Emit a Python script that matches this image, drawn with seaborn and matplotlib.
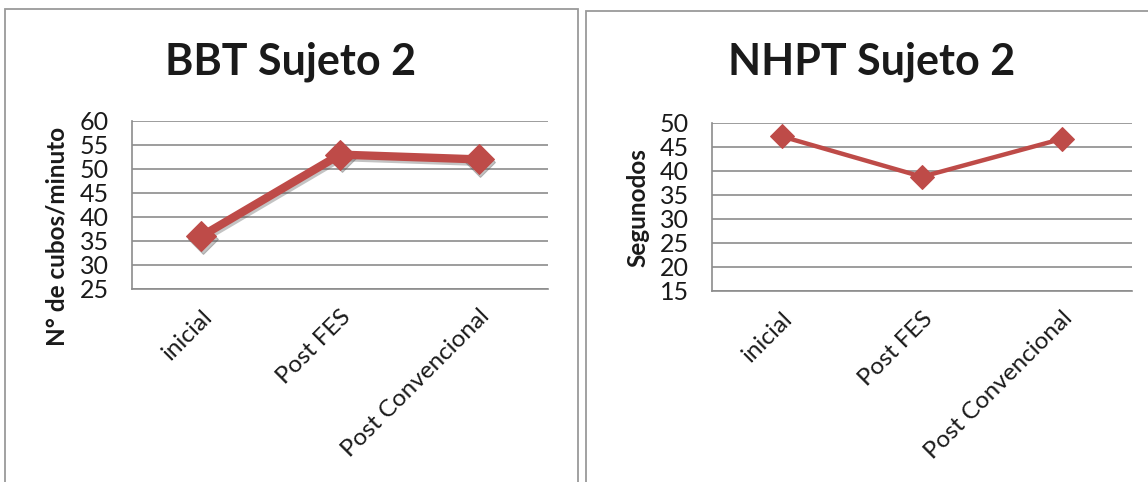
import matplotlib
matplotlib.use("Agg")
import matplotlib.pyplot as plt
import matplotlib.transforms as mtransforms
from matplotlib.patches import Rectangle
import pandas as pd
import seaborn as sns

# Data
etapas = ["inicial", "Post FES", "Post Convencional"]
bbt_cubos = [36, 53, 52]
nhpt_segundos = [47.2, 38.8, 46.7]

bbt_ticks = [25, 30, 35, 40, 45, 50, 55, 60]
nhpt_ticks = [15, 20, 25, 30, 35, 40, 45, 50]

sns.set_style("white")
plt.rcParams["font.family"] = ["Lato", "DejaVu Sans"]

RED = "#BE4B48"
GRID = "#8C8C8C"
TXT = "#1a1a1a"

W, H = 1148, 482
fig = plt.figure(figsize=(W / 100, H / 100), dpi=100)


def px_rect(x0, y0, x1, y1):
    return [x0 / W, 1 - y1 / H, (x1 - x0) / W, (y1 - y0) / H]


# Panel frames
for x0, y0, x1 in [(5, 9, 578), (586, 11, 1152)]:
    fig.patches.append(Rectangle((x0 / W, -0.05), (x1 - x0) / W, 1.05 - y0 / H,
                                 transform=fig.transFigure, fill=False,
                                 edgecolor="#9a9a9a", linewidth=1.3))


def panel(rect, values, ticks, title, ylabel, title_xy, ylabel_xy, lw, ms, shadow):
    ax = fig.add_axes(rect)
    df = pd.DataFrame({"etapa": etapas, "valor": values})
    if shadow:
        # soft drop shadow under the series
        sns.lineplot(data=df, x="etapa", y="valor", ax=ax, sort=False,
                     color="#555555", alpha=0.35, linewidth=lw, marker="D", markersize=ms,
                     markeredgecolor="#555555", markerfacecolor="#555555")
        off = mtransforms.ScaledTranslation(1.5 / 100, -2.5 / 100, fig.dpi_scale_trans)
        ax.lines[-1].set_transform(ax.transData + off)
    sns.lineplot(data=df, x="etapa", y="valor", ax=ax, sort=False,
                 color=RED, linewidth=lw, marker="D", markersize=ms,
                 markeredgecolor=RED, markerfacecolor=RED)
    ax.set_xlim(-0.5, len(etapas) - 0.5)
    ax.set_ylim(ticks[0], ticks[-1])
    ax.set_yticks(ticks)
    ax.set_yticklabels([str(t) for t in ticks], fontsize=18, color=TXT)
    ax.set_xticks(range(len(etapas)))
    ax.set_xticklabels(etapas, rotation=45, ha="right", rotation_mode="anchor",
                       fontsize=17.5, color=TXT)
    ax.set_xticks([i - 0.5 for i in range(len(etapas) + 1)], minor=True)
    ax.tick_params(axis="x", which="major", length=0, pad=12)
    ax.tick_params(axis="x", which="minor", length=6.5, width=1.1, color=GRID, direction="out")
    ax.tick_params(axis="y", which="major", length=6.5, width=1.1, color=GRID, direction="out", pad=10)
    ax.yaxis.grid(True, color=GRID, linewidth=1.2)
    ax.set_axisbelow(True)
    for s in ["top", "right"]:
        ax.spines[s].set_visible(False)
    for s in ["left", "bottom"]:
        ax.spines[s].set_color(GRID)
        ax.spines[s].set_linewidth(1.2)
    ax.set_xlabel("")
    ax.set_ylabel("")
    fig.text(title_xy[0] / W, 1 - title_xy[1] / H, title, ha="center", va="center",
             fontsize=31, fontweight="bold", color=TXT)
    fig.text(ylabel_xy[0] / W, 1 - ylabel_xy[1] / H, ylabel, ha="center", va="center",
             rotation=90, fontsize=17.5, fontweight="bold", color=TXT)
    return ax


panel(px_rect(132, 121, 548, 289), bbt_cubos, bbt_ticks, "BBT Sujeto 2",
      "N° de cubos/minuto", (291, 62), (57, 236), 6.0, 15, True)
panel(px_rect(712, 123, 1132, 291), nhpt_segundos, nhpt_ticks, "NHPT Sujeto 2",
      "Segunodos", (872, 62), (638, 208), 3.2, 12, False)

fig.savefig("out.png", dpi=100)
